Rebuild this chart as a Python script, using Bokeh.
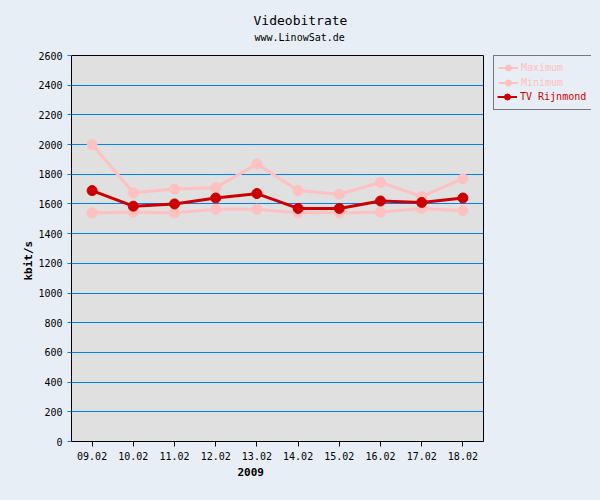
from bokeh.plotting import figure
from bokeh.layouts import row
from bokeh.models import (FactorRange, Range1d, FixedTicker, Legend, LegendItem,
                          Title, ColumnDataSource)
from bokeh.embed import file_html
from bokeh.resources import INLINE

dates = ["09.02", "10.02", "11.02", "12.02", "13.02", "14.02", "15.02", "16.02", "17.02", "18.02"]
maximum = [2000, 1675, 1700, 1710, 1870, 1690, 1665, 1745, 1650, 1770]
minimum = [1540, 1545, 1540, 1565, 1565, 1540, 1540, 1545, 1570, 1555]
tv_rijnmond = [1690, 1585, 1600, 1640, 1670, 1570, 1570, 1620, 1610, 1640]
y_ticks = list(range(0, 2601, 200))

BG = "#E8EEF6"
PLOT_BG = "#E0E0E0"
GRID = "#0080FF"
PINK = "#FFC0C0"
RED = "#CC0000"
FONT = "DejaVu Sans Mono"

src = ColumnDataSource(dict(d=dates, mx=maximum, mn=minimum, tv=tv_rijnmond))

p = figure(width=488, height=500, x_range=FactorRange(*dates), y_range=Range1d(0, 2600),
           output_backend="svg", toolbar_location=None, title=None,
           min_border_left=71, min_border_right=5, min_border_top=55, min_border_bottom=59)
p.background_fill_color = PLOT_BG
p.border_fill_color = BG
p.outline_line_color = "black"
p.outline_line_width = 1

p.xgrid.grid_line_color = None
p.ygrid.grid_line_color = GRID
p.ygrid.grid_line_width = 1

p.yaxis.ticker = FixedTicker(ticks=y_ticks)
p.yaxis.minor_tick_line_color = None
p.yaxis.major_tick_in = 0
p.yaxis.major_tick_out = 4
p.yaxis.major_tick_line_color = GRID
p.yaxis.major_label_standoff = 5
p.xaxis.major_tick_in = 0
p.xaxis.major_tick_out = 5
p.xaxis.major_label_standoff = 5
for ax in (p.xaxis, p.yaxis):
    ax.axis_line_color = "black"
    ax.major_label_text_font = FONT
    ax.major_label_text_font_size = "10px"
    ax.major_label_text_color = "black"

p.line("d", "mx", source=src, line_color=PINK, line_width=3)
p.scatter("d", "mx", source=src, marker="circle", size=10, fill_color=PINK, line_color=PINK)
p.line("d", "mn", source=src, line_color=PINK, line_width=3)
p.scatter("d", "mn", source=src, marker="circle", size=10, fill_color=PINK, line_color=PINK)
p.line("d", "tv", source=src, line_color=RED, line_width=3)
p.scatter("d", "tv", source=src, marker="circle", size=10, fill_color=RED, line_color=RED)

def add_title(fig, text, side, size, offset, bold=False, standoff=0):
    t = Title(text=text, align="left", offset=offset, standoff=standoff,
              text_font=FONT, text_font_size=size, text_color="black",
              text_font_style="bold" if bold else "normal", vertical_align="middle")
    fig.add_layout(t, side)

# small spacer between plot frame and subtitle
p.add_layout(Title(text=" ", text_font_size="1px", standoff=7, text_color=BG), "above")
add_title(p, "www.LinowSat.de", "above", "10px", 183, standoff=4)
add_title(p, "Videobitrate", "above", "13px", 182, standoff=0)
add_title(p, "kbit/s", "left", "11px", 161, bold=True, standoff=0)
add_title(p, "2009", "below", "11px", 166, bold=True, standoff=8)

# legend panel (own small figure so the legend box can sit beside the plot)
q = figure(width=112, height=500, x_range=FactorRange(*dates), y_range=Range1d(-2, -1),
           output_backend="svg", toolbar_location=None, title=None,
           x_axis_type=None, y_axis_type=None,
           min_border_left=5, min_border_right=9, min_border_top=55, min_border_bottom=59)
q.background_fill_color = BG
q.border_fill_color = BG
q.outline_line_color = None
q.grid.visible = False

l_max = q.line("d", "mx", source=src, line_color=PINK, line_width=2)
c_max = q.scatter("d", "mx", source=src, marker="circle", size=9, fill_color=PINK, line_color=PINK)
l_min = q.line("d", "mn", source=src, line_color=PINK, line_width=2)
c_min = q.scatter("d", "mn", source=src, marker="circle", size=9, fill_color=PINK, line_color=PINK)
l_tv = q.line("d", "tv", source=src, line_color=RED, line_width=2)
c_tv = q.scatter("d", "tv", source=src, marker="circle", size=9, fill_color=RED, line_color=RED)

def style_legend(lg, pad):
    lg.padding = pad
    lg.margin = 0
    lg.spacing = 0
    lg.glyph_width = 20
    lg.glyph_height = 15
    lg.label_height = 15
    lg.label_standoff = 3
    lg.label_text_font = FONT
    lg.label_text_font_size = "10px"
    lg.background_fill_color = BG
    lg.background_fill_alpha = 1.0

legend1 = Legend(items=[LegendItem(label="Maximum", renderers=[l_max, c_max]),
                        LegendItem(label="Minimum", renderers=[l_min, c_min]),
                        LegendItem(label="TV Rijnmond", renderers=[l_tv, c_tv])],
                 location="top_left")
style_legend(legend1, 4)
legend1.label_text_color = PINK
legend1.border_line_color = "black"
legend1.border_line_width = 1
q.add_layout(legend1)

frame_h = 500 - 55 - 59
legend2 = Legend(items=[LegendItem(label="TV Rijnmond", renderers=[l_tv, c_tv])],
                 location=(4, frame_h - 49))
style_legend(legend2, 0)
legend2.label_text_color = RED
legend2.border_line_alpha = 0
q.add_layout(legend2)

html = file_html(row(p, q), INLINE)
html = html.replace("</head>", "<style>html, body { background: %s; }</style></head>" % BG, 1)
open("out.html", "w").write(html)
